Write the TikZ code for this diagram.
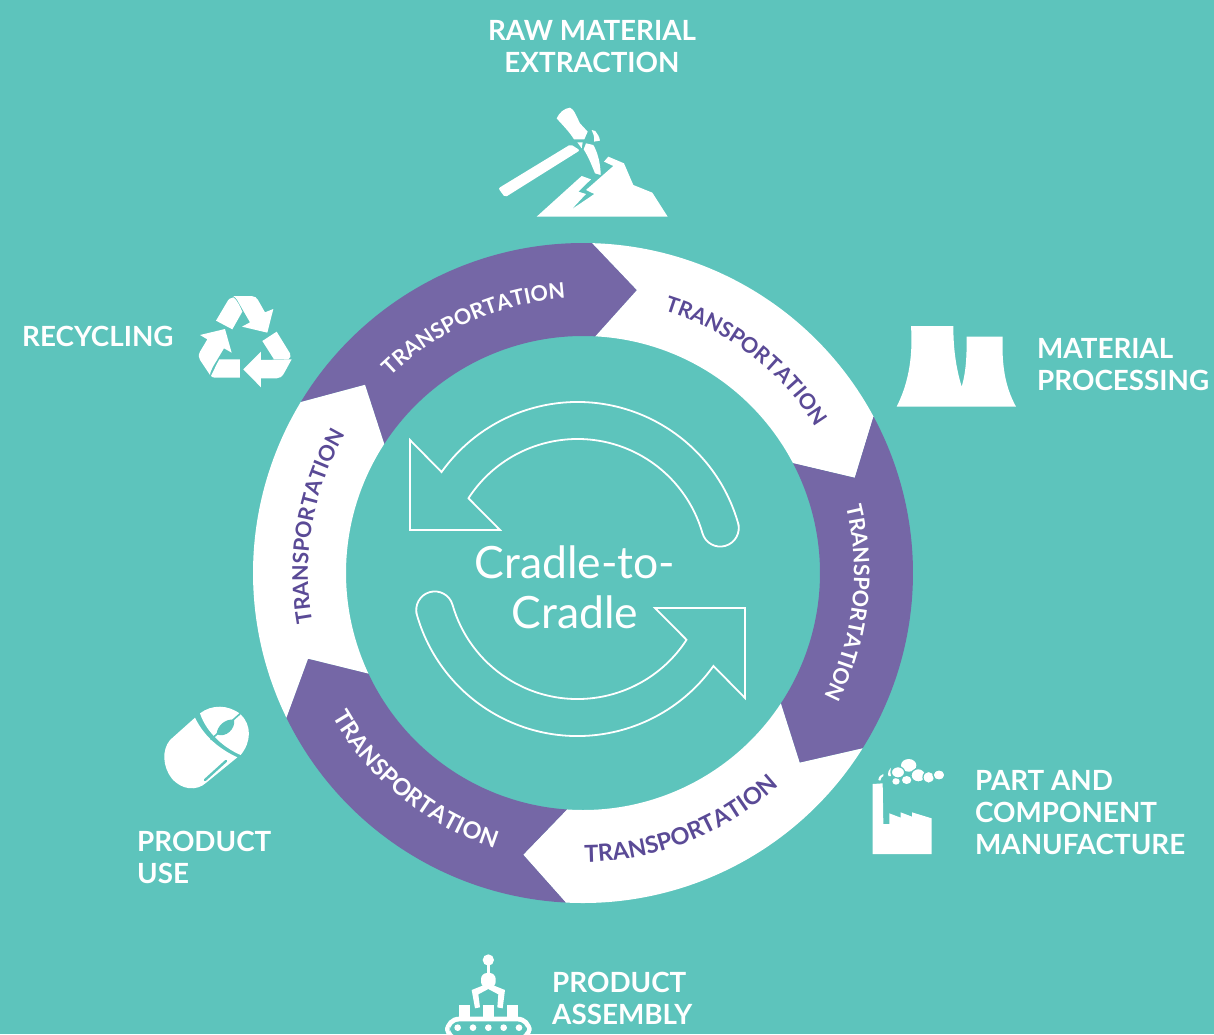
\documentclass[tikz,border=0pt]{standalone}
\usepackage{fontspec}
\setmainfont{Lato}
\newfontfamily\lblfont{Lato Bold}
\usetikzlibrary{decorations.text}
\definecolor{teal}{HTML}{5DC4BC}
\definecolor{purp}{HTML}{7567A6}
\definecolor{purptxt}{HTML}{5A4A96}
\tikzset{
  lbl/.style={text=white,font=\lblfont\fontsize{27.8}{32}\selectfont,inner sep=0pt,align=left},
  ctr/.style={text=white,font=\fontsize{44.5}{50}\selectfont,inner sep=0pt,align=center},
  ico/.style={fill=white,draw=none},
  cut/.style={fill=teal,draw=none},
  loopline/.style={draw=white,line width=1.8pt,line join=miter}
}
\newcommand{\seg}[7]{\fill[#7] (#1:330pt) arc[start angle=#1,end angle=#4,radius=330pt] -- (#6:288pt) -- (#5:237pt) arc[start angle=#5,end angle=#2,radius=237pt] -- (#3:288pt) -- cycle;}
\newcommand{\arctext}[5]{\path[decorate,decoration={text along path,text align=center,text={|\fontsize{#5}{#5}\lblfont\color{#4}|TRANSPORTATION}}] (#1:#3pt) arc[start angle=#1,end angle=#2,radius=#3pt];}
\newcommand{\looparrow}{\draw[loopline] (15:167pt) arc[start angle=15,end angle=144.5,radius=167pt] -- (-167.5pt,129pt) -- (-167.5pt,39pt) -- (-77.5pt,39pt) -- (147:130pt) arc[start angle=147,end angle=16,radius=130pt] arc[start angle=196,end angle=376,radius=18.5pt] -- cycle;}
\begin{document}
\begin{tikzpicture}[x=1pt,y=-1pt]
\useasboundingbox (0,0) rectangle (1214,1034);
\clip (0,0) rectangle (1214,1034);
\fill[teal] (0,0) rectangle (1214,1034);

% ring
\begin{scope}[shift={(583,573)},x=1pt,y=1pt]
\seg{148.8}{147}{139.2}{88.4}{87}{79.2}{purp}
\seg{88.4}{87}{79.2}{28.3}{27.6}{19.3}{white}
\seg{28.3}{27.6}{19.3}{-32.1}{-33.4}{-41.2}{purp}
\seg{-32.1}{-33.4}{-41.2}{-93}{-93.9}{-102}{white}
\seg{-93}{-93.9}{-102}{-154}{-154.9}{-162.7}{purp}
\seg{-154}{-154.9}{-162.7}{-211.2}{-213}{-220.8}{white}
\arctext{144}{84}{275}{white}{21.5}
\arctext{82.5}{22.5}{275}{purptxt}{21.5}
\arctext{23.5}{-36.5}{271}{white}{21.5}
\arctext{-98.5}{-38.5}{289}{purptxt}{23.5}
\arctext{-159}{-99}{289}{white}{23.5}
\arctext{-160}{-220}{275}{purptxt}{21.5}
\end{scope}

% centre arrows
\begin{scope}[shift={(577.5,569)},x=1pt,y=1pt]
\looparrow
\begin{scope}[rotate=180]\looparrow\end{scope}
\end{scope}
\node[ctr] (centre) at (575,587.5) {Cradle-to-\\Cradle};

% labels
\node[lbl,align=center] (raw) at (592,47) {RAW MATERIAL\\EXTRACTION};
\node[lbl,anchor=west] (rec) at (22,336) {RECYCLING};
\node[lbl,anchor=west] (mat) at (1037,365) {MATERIAL\\PROCESSING};
\node[lbl,anchor=west] (part) at (975,813) {PART AND\\COMPONENT\\MANUFACTURE};
\node[lbl,anchor=west] (use) at (137,857) {PRODUCT\\USE};
\node[lbl,anchor=west] (asm) at (552,998) {PRODUCT\\ASSEMBLY};

% pickaxe
\begin{scope}[shift={(480,90)},x=0.3333pt,y=-0.3333pt]
\fill[ico,rounded corners=2pt] (55,295) -- (272,163) -- (300,181) -- (75,322) -- cycle;
\fill[ico] (230,85) .. controls (238,68) and (252,55) .. (270,53) .. controls (282,56) and (292,85) .. (300,100) -- (323,125) -- (313,148) -- (282,148) .. controls (268,125) and (250,108) .. (230,85) -- cycle;
\fill[ico] (335,120) -- (346,123) .. controls (353,132) and (358,140) .. (360,152) -- (342,155) .. controls (344,140) and (340,130) .. (335,120) -- cycle;
\fill[ico] (318,160) -- (340,165) .. controls (352,185) and (362,220) .. (362,255) -- (345,250) .. controls (335,225) and (325,200) .. (311,178) -- cycle;
\fill[ico] (292,157) -- (308,157) -- (305,175) -- cycle;
\fill[ico] (170,380) -- (305,258) -- (333,268) -- (295,305) -- (318,312) -- (275,358) -- (343,312) -- (318,300) -- (400,228) -- (372,215) -- (385,200) -- (432,220) -- (460,285) -- (517,308) -- (563,380) -- cycle;
\end{scope}

% recycling
\begin{scope}[shift={(180,280)},x=0.3333pt,y=-0.3333pt]
\fill[ico] (160,48) -- (215,48) .. controls (225,48) and (230,54) .. (234,60) -- (255,97) -- (280,87) -- (262,158) -- (186,140) -- (210,127) -- (180,75) .. controls (175,65) and (170,55) .. (160,48) -- cycle;
\fill[ico] (108,122) -- (140,68) .. controls (145,58) and (152,52) .. (160,52) .. controls (172,60) and (180,80) .. (187,95) -- (157,148) -- cycle;
\fill[ico] (60,165) -- (135,147) -- (155,218) -- (132,205) -- (100,258) .. controls (95,268) and (90,278) .. (90,285) -- (60,240) .. controls (55,232) and (55,225) .. (60,215) -- (82,178) -- cycle;
\fill[ico] (93,288) .. controls (100,275) and (108,255) .. (118,238) -- (180,238) -- (180,293) -- (105,293) .. controls (100,293) and (96,291) .. (93,288) -- cycle;
\fill[ico] (190,268) -- (243,215) -- (243,240) -- (335,238) -- (312,280) .. controls (306,290) and (300,295) .. (290,295) -- (243,295) -- (243,322) -- cycle;
\fill[ico] (247,183) -- (290,155) -- (330,220) .. controls (333,228) and (332,234) .. (325,238) -- (282,238) -- cycle;
\end{scope}

% cooling towers
\begin{scope}[shift={(885,315)},x=0.3333pt,y=-0.3333pt]
\fill[ico] (78,33) -- (205,33) .. controls (205,110) and (215,165) .. (230,215) .. controls (245,165) and (245,110) .. (245,65) -- (353,65) .. controls (350,150) and (360,215) .. (393,275) -- (35,275) .. controls (65,215) and (85,140) .. (78,33) -- cycle;
\end{scope}

% factory
\begin{scope}[shift={(860,750)},x=0.3333pt,y=-0.3333pt]
\fill[ico] (38,102) -- (68,100) -- (70,222) -- (88,222) -- (88,190) -- (122,203) -- (122,187) -- (156,200) -- (156,187) -- (215,205) -- (215,312) -- (38,312) -- cycle;
\fill[ico] (146,46) ellipse[x radius=23,y radius=19];
\fill[ico] (140,90) ellipse[x radius=14,y radius=12];
\fill[ico] (108,94) ellipse[x radius=11,y radius=10];
\draw[teal,line width=1.2pt,fill=white] (175,76) ellipse[x radius=22,y radius=20];
\draw[teal,line width=1.2pt,fill=white] (206,82) ellipse[x radius=17,y radius=18];
\draw[teal,line width=1.2pt,fill=white] (237,75) ellipse[x radius=18,y radius=15];
\draw[teal,line width=1.2pt,fill=white] (114,67) ellipse[x radius=20,y radius=17];
\fill[ico] (55,90) .. controls (56,80) and (62,74) .. (70,72) -- (70,78) .. controls (65,80) and (62,85) .. (61,92) -- cycle;
\fill[ico] (85,78) .. controls (83,68) and (86,58) .. (93,53) .. controls (90,62) and (90,70) .. (93,78) -- cycle;
\end{scope}

% assembly
\begin{scope}[shift={(430,945)},x=0.3333pt,y=-0.3333pt]
\fill[ico] (175,45) circle[radius=17];
\fill[ico] (170,55) rectangle (180,90);
\fill[ico,rounded corners=6pt] (153,84) rectangle (197,128);
\fill[ico] (125,135) -- (175,115) -- (225,135) -- (218,190) -- (202,187) -- (205,148) -- (175,132) -- (145,148) -- (150,187) -- (135,190) -- cycle;
\fill[ico] (88,180) rectangle (120,216);
\fill[ico] (160,180) rectangle (192,216);
\fill[ico] (232,180) rectangle (265,216);
\fill[ico,rounded corners=14pt] (45,215) rectangle (305,290);
\fill[cut,rounded corners=10pt] (59,229) rectangle (291,276);
\foreach \dx in {83,129,175,221,267} \fill[ico] (\dx,248) circle[radius=10];
\end{scope}

% mouse
\begin{scope}[shift={(150,695)},x=0.3333pt,y=-0.3333pt]
\fill[ico] (135,68) -- (60,135) .. controls (35,165) and (38,215) .. (65,250) .. controls (95,285) and (140,290) .. (170,262) -- (262,187) .. controls (215,165) and (165,130) .. (135,68) -- cycle;
\draw[teal,line width=2.4pt,line cap=round] (165,255) -- (228,198);
\fill[ico] (150,55) .. controls (185,28) and (235,28) .. (272,58) .. controls (305,90) and (305,140) .. (272,180) .. controls (225,160) and (170,115) .. (150,55) -- cycle;
\draw[teal,line width=1.6pt] (182,134) -- (275,52);
\fill[cut] (200,118) .. controls (200,95) and (225,70) .. (252,74) .. controls (258,100) and (228,130) .. (200,118) -- cycle;
\end{scope}
\end{tikzpicture}
\end{document}
